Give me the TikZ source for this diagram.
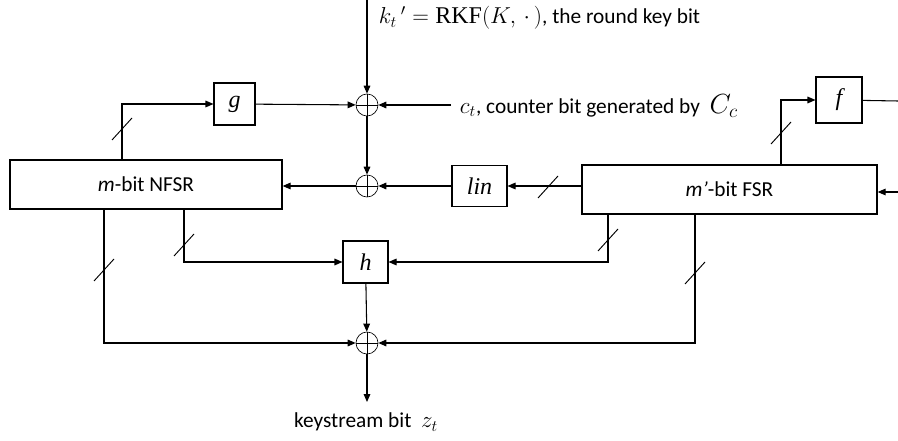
\documentclass[tikz,border=0pt]{standalone}
\usepackage{fontspec}
\setmainfont{Carlito}
\newfontfamily\tms{Liberation Serif}
\newfontfamily\tmsit{Liberation Serif Italic}
\newcommand{\fnm}[1]{{\fontsize{18}{20}\selectfont\tmsit #1}}
\usetikzlibrary{arrows.meta}

\tikzset{
  reg/.style={draw, line width=1pt, inner sep=0pt},
  fbox/.style={draw, line width=0.8pt, inner sep=0pt},
  xor/.style={draw, circle, line width=0.5pt, minimum size=16.5pt, inner sep=0pt,
    path picture={\draw[line width=0.5pt] (path picture bounding box.north) -- (path picture bounding box.south)
      (path picture bounding box.west) -- (path picture bounding box.east);}},
  bus/.pic={\draw[line width=0.7pt] (-10,11) -- (10,-11);},
  >={Triangle[length=6pt,width=5pt]},
}

\begin{document}
\begin{tikzpicture}[x=0.75pt,y=-0.75pt,line width=0.8pt,font=\fontsize{16}{19}\selectfont]
            \useasboundingbox (0,0) rectangle (898,441);
            \node[reg, minimum width=204pt, minimum height=36.75pt] (nfsr) at (146,184.5) {\textit{m}-bit NFSR\hspace{30pt}};
            \node[reg, minimum width=221.25pt, minimum height=36.75pt] (fsr) at (729.5,189.5) {\textit{m'}-bit FSR};
            \node[fbox, minimum width=30.75pt, minimum height=31.5pt] (g) at (234.5,104) {\fnm{g}};
            \node[fbox, minimum width=34.5pt, minimum height=34.5pt] (f) at (839,100) {\fnm{f}};
            \node[fbox, minimum width=41.25pt, minimum height=30.75pt] (lin) at (479.5,186) {\fnm{lin}};
            \node[fbox, minimum width=33.75pt, minimum height=31.5pt] (h) at (365.5,262) {\fnm{h}};
            \node[xor] (x1) at (367,105) {};
            \node[xor] (x2) at (367,186) {};
            \node[xor] (x3) at (367,343) {};
            \coordinate (kin) at (367,0);
            \coordinate (cin) at (451,105);
            \coordinate (zout) at (367,402);
            \coordinate (fout) at (898,101);
            \coordinate (fsrin) at (898,192);
            \coordinate (ga) at (122,0);
            \coordinate (fa) at (781,0);
            \coordinate (ha) at (184,0);
            \coordinate (hb) at (608,0);
            \coordinate (za) at (104,0);
            \coordinate (zb) at (695,0);
            \node[anchor=west] (ktext) at (374,18) {{\fontsize{18}{20}\selectfont$k_t\,'=\mbox{\tms RKF}(K,\,\cdot\,)$}, the round key bit};
            \node[anchor=west] (ctext) at (455,106) {{\fontsize{18}{22}\selectfont$c_t$}, counter bit generated by\ \ {\fontsize{20}{22}\selectfont$C_c$}};
            \node (ztext) at (366,422) {keystream bit\ \ {\fontsize{18}{22}\selectfont$z_t$}};
            \draw[->] (kin) -- (x1);
            \draw[->] (cin) -- (x1);
            \draw[->] (g) -- (x1);
            \draw[->] (x1) -- (x2);
            \draw[->] (x2) -- (nfsr.east |- x2);
            \draw[->] (lin) -- (x2);
            \draw[->] (fsr.west |- lin) -- (lin);
            \draw[->] (fsrin) -- (fsr.east |- fsrin);
            \draw (f) -- (fout);
            \draw[->] (nfsr.north -| ga) |- (g);
            \draw[->] (fsr.north -| fa) |- (f);
            \draw[->] (nfsr.south -| ha) |- (h);
            \draw[->] (fsr.south -| hb) |- (h);
            \draw[->] (nfsr.south -| za) |- (x3);
            \draw[->] (fsr.south -| zb) |- (x3);
            \draw[->] (h) -- (x3);
            \draw[->] (x3) -- (zout);
            \pic at (122,129) {bus};
            \pic at (781,133) {bus};
            \pic at (548,187) {bus};
            \pic at (184,245) {bus};
            \pic at (104,270) {bus};
            \pic at (608,240) {bus};
            \pic at (695,273) {bus};
        \end{tikzpicture}
\end{document}
